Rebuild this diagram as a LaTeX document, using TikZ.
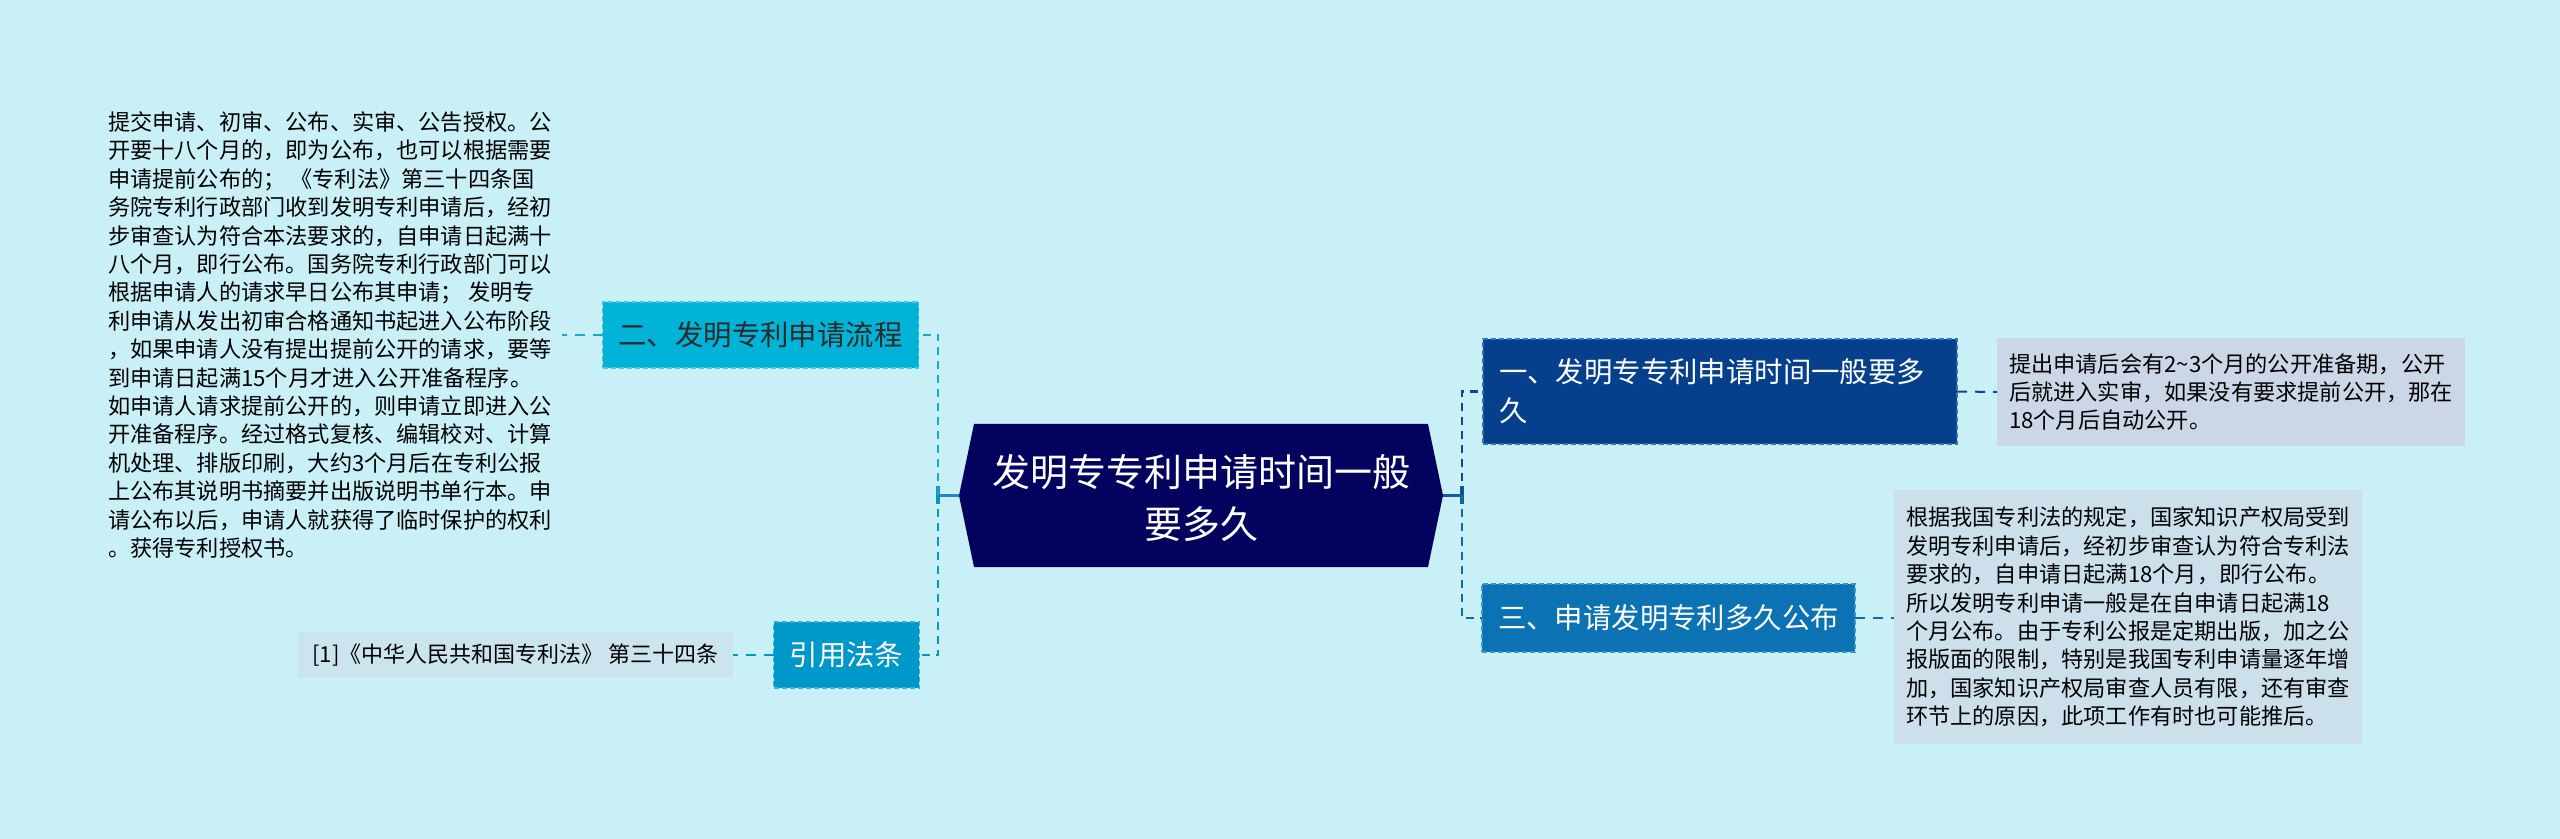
\documentclass[tikz,border=0pt]{standalone}
\usepackage{fontspec}
\newfontfamily\cjk{Noto Sans CJK SC}
\usetikzlibrary{calc}
\definecolor{bg}{HTML}{C9EFF7}
\definecolor{centerfill}{HTML}{03035F}
\definecolor{nonefill}{HTML}{063F8B}
\definecolor{noneline}{HTML}{3A6FB0}
\definecolor{nthreefill}{HTML}{0B72B4}
\definecolor{nthreeline}{HTML}{3D94C9}
\definecolor{ntwofill}{HTML}{00B3D7}
\definecolor{ntwoline}{HTML}{4CC6E0}
\definecolor{citefill}{HTML}{0097C9}
\definecolor{citeline}{HTML}{3DB0D8}
\definecolor{leafonefill}{HTML}{CBD6E6}
\definecolor{leafthreefill}{HTML}{CCE0EC}
\definecolor{leafcitefill}{HTML}{CCE4EE}
\definecolor{darktext}{HTML}{2B2B2B}
\definecolor{lefttop}{HTML}{17AACF}
\definecolor{leftbot}{HTML}{0896C4}
\definecolor{leftstem}{HTML}{1A8CC2}
\definecolor{righttop}{HTML}{0C4A90}
\definecolor{rightbot}{HTML}{0C6DAA}
\definecolor{rightstem}{HTML}{0C5E9C}
\begin{document}
\begin{tikzpicture}[x=0.5pt,y=-0.5pt,
  base/.style={inner sep=0pt, outer sep=0pt, font=\cjk},
  branchfont/.style={font=\cjk\fontsize{14.2pt}{19.5pt}\selectfont},
  leaffont/.style={font=\cjk\fontsize{11.1pt}{14.2pt}\selectfont},
  branchbox/.style={base, branchfont, inner xsep=8pt, draw, dashed, line width=0.6pt, dash pattern=on 2.5pt off 1.5pt},
  leafbox/.style={base, leaffont, inner xsep=6pt, align=left, text=black},
  vconn/.style={line width=1.4pt, dash pattern=on 4pt off 3pt},
  leafconn/.style={line width=1pt, dash pattern=on 5pt off 4pt},
  stem/.style={line width=1.6pt}]
\fill[bg] (0,0) rectangle (2560,839);
\useasboundingbox (0,0) rectangle (2560,839);

% centre
\node[base, minimum width=242pt, minimum height=71.5pt] (c) at (1201,495.5) {};
\fill[centerfill] (c.west) -- ($(c.north west)+(15,0)$) -- ($(c.north east)+(-15,0)$) -- (c.east) -- ($(c.south east)+(-15,0)$) -- ($(c.south west)+(15,0)$) -- cycle;
\node[base, font=\cjk\fontsize{19pt}{26pt}\selectfont, text=white, align=center] (ctitle) at (1201,498) {发明专专利申请时间一般\\要多久};

% right branches
\node[branchbox, fill=nonefill, draw=noneline, text=white, minimum width=237pt, minimum height=52.5pt, text width=221pt, align=left] (n1) at (1720,391.5) {一、发明专专利申请时间一般要多\\久};
\node[branchbox, fill=nthreefill, draw=nthreeline, text=white, minimum width=186.5pt, minimum height=34pt, align=center] (n3) at (1668.5,618) {三、申请发明专利多久公布};

\node[leafbox, fill=leafonefill, minimum width=234pt, minimum height=54pt, text width=222pt] (leaf1) at (2231,392) {提出申请后会有2\textasciitilde3个月的公开准备期，公开\\后就进入实审，如果没有要求提前公开，那在\\18个月后自动公开。};
\node[leafbox, fill=leafthreefill, minimum width=234pt, minimum height=126.5pt, text width=222pt] (leaf3) at (2128,617) {根据我国专利法的规定，国家知识产权局受到\\发明专利申请后，经初步审查认为符合专利法\\要求的，自申请日起满18个月，即行公布。\\所以发明专利申请一般是在自申请日起满18\\个月公布。由于专利公报是定期出版，加之公\\报版面的限制，特别是我国专利申请量逐年增\\加，国家知识产权局审查人员有限，还有审查\\环节上的原因，此项工作有时也可能推后。};

% left branches
\node[branchbox, fill=ntwofill, draw=ntwoline, text=darktext, minimum width=157.5pt, minimum height=33pt, align=center] (n2) at (760.5,335) {二、发明专利申请流程};
\node[branchbox, fill=citefill, draw=citeline, text=white, minimum width=71.5pt, minimum height=33pt, align=center] (cite) at (846.5,655) {引用法条};

\node[leafbox, anchor=east, inner xsep=5pt] (leaf2) at (562,335) {提交申请、初审、公布、实审、公告授权。公\\开要十八个月的，即为公布，也可以根据需要\\申请提前公布的； 《专利法》第三十四条国\\务院专利行政部门收到发明专利申请后，经初\\步审查认为符合本法要求的，自申请日起满十\\八个月，即行公布。国务院专利行政部门可以\\根据申请人的请求早日公布其申请； 发明专\\利申请从发出初审合格通知书起进入公布阶段\\，如果申请人没有提出提前公开的请求，要等\\到申请日起满15个月才进入公开准备程序。\\如申请人请求提前公开的，则申请立即进入公\\开准备程序。经过格式复核、编辑校对、计算\\机处理、排版印刷，大约3个月后在专利公报\\上公布其说明书摘要并出版说明书单行本。申\\请公布以后，申请人就获得了临时保护的权利\\。获得专利授权书。};
\node[leafbox, fill=leafcitefill, font=\cjk\fontsize{11pt}{13pt}\selectfont, minimum width=217.5pt, minimum height=23pt, align=center] (citeleaf) at (515.5,655) {[1]《中华人民共和国专利法》 第三十四条};

% connectors left
\coordinate (jl) at (938,495.5);
\draw[stem, leftstem] (c.west) -- (jl);
\draw[stem, leftstem] ($(jl)+(0,-9)$) -- ($(jl)+(0,9)$);
\draw[vconn, lefttop] (jl) |- (n2.east);
\draw[vconn, leftbot] (jl) |- (cite.east);
\draw[leafconn, lefttop] (n2.west) -- (leaf2.east);
\draw[leafconn, leftbot] (cite.west) -- (citeleaf.east);

% connectors right
\coordinate (jr) at (1462,495.5);
\draw[stem, rightstem] (c.east) -- (jr);
\draw[stem, rightstem] ($(jr)+(0,-9)$) -- ($(jr)+(0,9)$);
\draw[vconn, righttop] (jr) |- (n1.west);
\draw[vconn, rightbot] (jr) |- (n3.west);
\draw[leafconn, righttop] (n1.east) -- (leaf1.west);
\draw[leafconn, rightbot] (n3.east) -- (n3.east -| leaf3.west);
\end{tikzpicture}
\end{document}
